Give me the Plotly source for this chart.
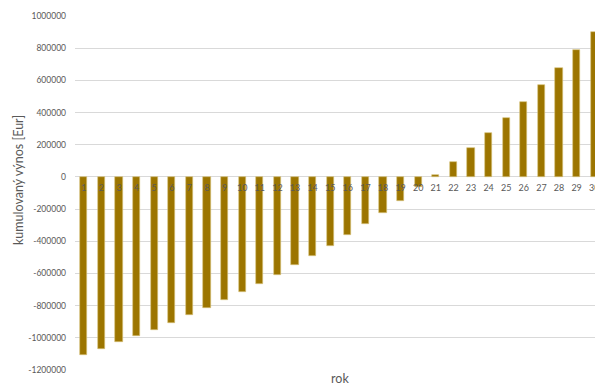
import plotly.graph_objects as go

years = list(range(1, 31))
cum_yield = [-1105000, -1068000, -1029000, -991000, -950000, -906000, -861000, -815000,
             -767000, -716000, -664000, -610000, -549000, -489000, -427000, -363000,
             -294000, -224000, -149000, -62000, 9000, 91000, 180000, 270000, 365000,
             465000, 569000, 675000, 789000, 902000]
y_ticks = [1000000, 800000, 600000, 400000, 200000, 0, -200000, -400000, -600000,
           -800000, -1000000, -1200000]
y_tick_labels = [str(v) for v in y_ticks]
x_title = "rok"
y_title = "kumulovaný výnos [Eur]"

FONT = "Lato"
GRAY = "#595959"
ymin, ymax = -1200000, 1000000

fig = go.Figure(go.Bar(
    x=years, y=cum_yield, width=0.4,
    marker=dict(color="#9C7500", line=dict(color="#D9C27A", width=0.6)),
))

W, H = 595, 385
ml, mr, mt, mb = 75, 0, 16, 15
step_px = 17.6
plot_w = W - ml - mr
plot_h = H - mt - mb
xmax = 0.5 + plot_w / step_px

fig.update_layout(
    width=W, height=H,
    margin=dict(l=ml, r=mr, t=mt, b=mb, autoexpand=False),
    paper_bgcolor="white", plot_bgcolor="white",
    showlegend=False,
    font=dict(family=FONT, color=GRAY),
    bargap=0,
    xaxis=dict(
        range=[0.5, xmax], tickvals=years, ticktext=[str(y) for y in years],
        anchor="free", position=(0 - ymin) / (ymax - ymin),
        showgrid=False, zeroline=False, showline=False,
        ticks="", tickfont=dict(size=9, color=GRAY), ticklabelstandoff=4,
        ticklabeloverflow="allow",
    ),
    yaxis=dict(
        range=[ymin, ymax], tickvals=y_ticks, ticktext=y_tick_labels,
        showgrid=True, gridcolor="#D9D9D9", gridwidth=1,
        zeroline=True, zerolinecolor="#D9D9D9", zerolinewidth=1,
        showline=False, ticks="", tickfont=dict(size=8.5, color=GRAY),
        ticklabelstandoff=8,
    ),
    annotations=[
        dict(text=y_title, xref="paper", yref="paper", x=(19 - ml) / plot_w,
             y=(H - mb - 180) / plot_h,
             textangle=-90, showarrow=False, xanchor="center", yanchor="middle",
             font=dict(size=12.5, color=GRAY, family=FONT)),
        dict(text=x_title, xref="paper", yref="paper", x=(340 - ml) / plot_w,
             y=-(378 - (H - mb)) / plot_h, showarrow=False,
             xanchor="center", yanchor="middle",
             font=dict(size=12.5, color=GRAY, family=FONT)),
    ],
)

fig.write_html("out.html")
